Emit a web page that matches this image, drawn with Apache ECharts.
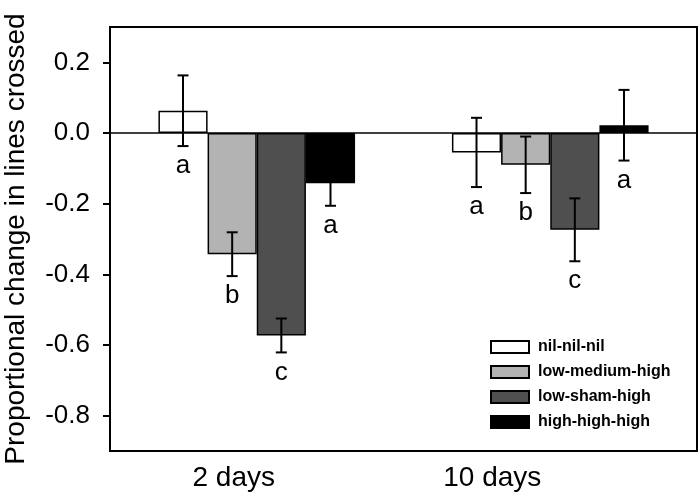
<!DOCTYPE html>
<html>
<head>
<meta charset="utf-8">
<script src="https://cdn.jsdelivr.net/npm/echarts@6/dist/echarts.min.js"></script>
<style>
    html, body {margin: 0; padding: 0; background: #fff;}
    #chart {width: 700px; height: 502px;}
</style>
</head>
<body>
<div id="chart"></div>
<script>
const categories = ['2 days', '10 days'];
const groupNames = ['nil-nil-nil', 'low-medium-high', 'low-sham-high', 'high-high-high'];
const barColors = ['#ffffff', '#b3b3b3', '#4f4f4f', '#000000'];

const nilMeans = [0.063, -0.055];
const nilErrors = [0.100, 0.098];
const nilLetters = ['a', 'a'];

const lowMedHighMeans = [-0.343, -0.090];
const lowMedHighErrors = [0.062, 0.080];
const lowMedHighLetters = ['b', 'b'];

const lowShamHighMeans = [-0.573, -0.274];
const lowShamHighErrors = [0.048, 0.089];
const lowShamHighLetters = ['c', 'c'];

const highMeans = [-0.142, 0.022];
const highErrors = [0.064, 0.100];
const highLetters = ['a', 'a'];

const yTickValues = [-0.8, -0.6, -0.4, -0.2, 0.0, 0.2];

const allMeans = [nilMeans, lowMedHighMeans, lowShamHighMeans, highMeans];
const allErrors = [nilErrors, lowMedHighErrors, lowShamHighErrors, highErrors];
const allLetters = [nilLetters, lowMedHighLetters, lowShamHighLetters, highLetters];

const categoryGap = 0.33;

// rows for the error bars: [category, mean, error, series index]
let errRows = [];
let errLetters = [];
allMeans.forEach((means, s) => {
    means.forEach((m, c) => {
        errRows.push([c, m, allErrors[s][c], s]);
        errLetters.push(allLetters[s][c]);
    });
});

function renderErr(params, api) {
    let cat = api.value(0);
    let mean = api.value(1);
    let err = api.value(2);
    let s = api.value(3);
    let bandW = api.size([1, 0])[0];
    let barW = bandW * (1 - categoryGap) / groupNames.length;
    let center = api.coord([cat, mean]);
    let x = center[0] + (s - (groupNames.length - 1) / 2) * barW;
    let top = api.coord([cat, mean + err])[1];
    let bottom = api.coord([cat, mean - err])[1];
    let cap = 5.5;
    let style = {stroke: '#000', lineWidth: 2};
    return {
        type: 'group',
        children: [
            {type: 'line', shape: {x1: x, y1: top, x2: x, y2: bottom}, style: style},
            {type: 'line', shape: {x1: x - cap, y1: top, x2: x + cap, y2: top}, style: style},
            {type: 'line', shape: {x1: x - cap, y1: bottom, x2: x + cap, y2: bottom}, style: style},
            {
                type: 'text',
                style: {
                    text: errLetters[params.dataIndex],
                    x: x,
                    y: bottom + 20,
                    align: 'center',
                    verticalAlign: 'middle',
                    fill: '#000',
                    font: '26px "Liberation Sans", Arial, sans-serif'
                }
            }
        ]
    };
}

let barSeries = groupNames.map((name, s) => {
    let ser = {
        name: name,
        type: 'bar',
        data: allMeans[s],
        barGap: '0%',
        barCategoryGap: (categoryGap * 100) + '%',
        itemStyle: {
            color: barColors[s],
            borderColor: '#000',
            borderWidth: 1.5
        }
    };
    if (s === 0) {
        ser.markLine = {
            silent: true,
            symbol: ['none', 'none'],
            label: {show: false},
            lineStyle: {color: '#000', width: 1.5, type: 'solid'},
            data: [{yAxis: 0}]
        };
    }
    return ser;
});

let option = {
    animation: false,
    textStyle: {fontFamily: '"Liberation Sans", Arial, sans-serif', color: '#000'},
    grid: {
        left: 110,
        top: 27,
        right: 3,
        bottom: 51,
        outerBoundsMode: 'none',
        show: true,
        borderColor: '#000',
        borderWidth: 2
    },
    legend: {
        orient: 'vertical',
        left: 490,
        top: 339,
        padding: 0,
        itemWidth: 38,
        itemHeight: 12,
        itemGap: 9,
        icon: 'rect',
        data: groupNames,
        textStyle: {
            fontSize: 16,
            fontWeight: 'bold',
            color: '#000',
            padding: [0, 0, 0, 4]
        }
    },
    xAxis: {
        type: 'category',
        data: categories,
        axisTick: {show: false},
        axisLine: {onZero: false, lineStyle: {color: '#000', width: 2}},
        axisLabel: {
            margin: 13,
            color: '#000',
            fontSize: 28,
            formatter: function (v, i) {
                return i === 0 ? '{a|' + v + '}' : '{b|' + v + '}';
            },
            rich: {
                a: {fontSize: 28, color: '#000', padding: [0, 46, 0, 0]},
                b: {fontSize: 28, color: '#000', padding: [0, 116, 0, 0]}
            }
        }
    },
    yAxis: {
        type: 'value',
        min: -0.9,
        max: 0.3,
        interval: 0.1,
        name: 'Proportional change in lines crossed',
        nameLocation: 'middle',
        nameRotate: 90,
        nameGap: 80,
        nameTextStyle: {fontSize: 28, color: '#000'},
        splitLine: {show: false},
        axisLine: {show: true, lineStyle: {color: '#000', width: 2}},
        axisTick: {
            show: true,
            length: 7,
            lineStyle: {color: '#000', width: 2},
            customValues: yTickValues
        },
        axisLabel: {
            margin: 20,
            fontSize: 26,
            color: '#000',
            customValues: yTickValues,
            formatter: function (v) {
                return v.toFixed(1);
            }
        }
    },
    series: barSeries.concat([{
        type: 'custom',
        renderItem: renderErr,
        data: errRows,
        encode: {x: 0, y: 1},
        z: 5,
        silent: true
    }])
};

echarts.init(document.getElementById('chart')).setOption(option);
</script>
</body>
</html>
